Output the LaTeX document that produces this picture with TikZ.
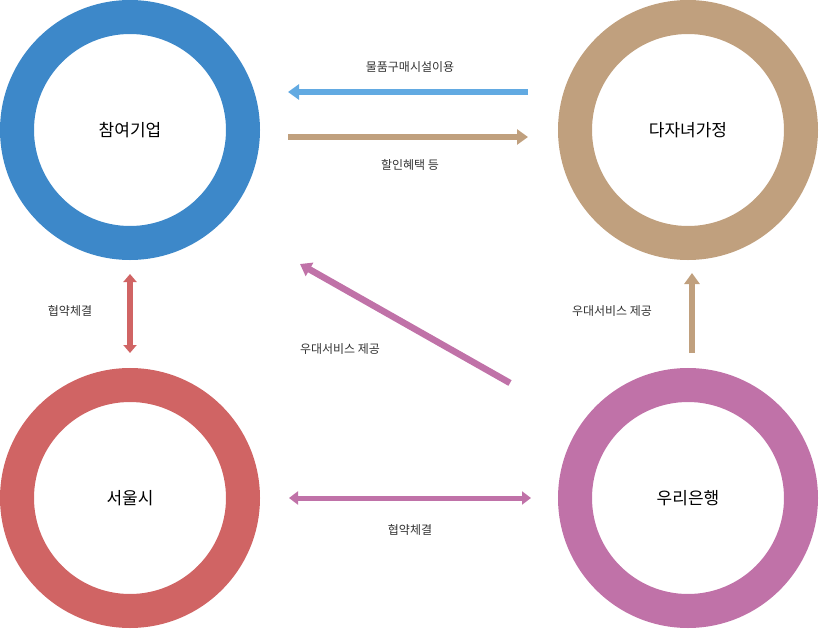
\documentclass[tikz,border=0pt]{standalone}
\usepackage{fontspec}
\setmainfont{Noto Sans CJK KR}
\usetikzlibrary{arrows.meta}

\definecolor{ringblue}{HTML}{3D88C9}
\definecolor{ringtan}{HTML}{C0A07E}
\definecolor{ringred}{HTML}{D06464}
\definecolor{ringpink}{HTML}{C072A8}
\definecolor{arrblue}{HTML}{62AAE2}

\tikzset{
	ring/.style={circle,draw=#1,line width=34pt,minimum size=226pt,font=\fontsize{17}{20}\selectfont},
	flow/.style={draw=#1,line width=6.5pt,-{Triangle[length=11pt,width=15pt]},color=#1},
	note/.style={font=\fontsize{12}{14}\selectfont,text=black!80}
}

\begin{document}
\begin{tikzpicture}[x=1pt,y=-1pt]
	\useasboundingbox (0,0) rectangle (820,629);

	\node (firm) [ring=ringblue] at (130,130) {참여기업};
	\node (family) [ring=ringtan] at (688,130) {다자녀가정};
	\node (city) [ring=ringred] at (130,498) {서울시};
	\node (bank) [ring=ringpink] at (688,498) {우리은행};

	\coordinate (a1) at (528,92);  \coordinate (a2) at (288,92);
	\coordinate (b1) at (288,137); \coordinate (b2) at (528,137);
	\coordinate (c1) at (130,274); \coordinate (c2) at (130,353);
	\coordinate (d1) at (510,383); \coordinate (d2) at (300,264);
	\coordinate (e1) at (692,353); \coordinate (e2) at (692,273);
	\coordinate (f1) at (289,498); \coordinate (f2) at (531,498);

	\draw[flow=arrblue] (a1) -- (a2);
	\draw[flow=ringtan] (b1) -- (b2);
	\draw[flow=ringred,{Triangle[length=8pt,width=13pt]}-{Triangle[length=8pt,width=13pt]}] (c1) -- (c2);
	\draw[flow=ringpink] (d1) -- (d2);
	\draw[flow=ringtan] (e1) -- (e2);
	\draw[flow=ringpink,line width=5pt,{Triangle[length=9pt,width=13pt]}-{Triangle[length=9pt,width=13pt]}] (f1) -- (f2);

	\node (buy) [note] at (410,67) {물품구매시설이용};
	\node (sale) [note] at (410,165) {할인혜택 등};
	\node (pact1) [note] at (70,311) {협약체결};
	\node (serv1) [note] at (340,349) {우대서비스 제공};
	\node (serv2) [note] at (612,311) {우대서비스 제공};
	\node (pact2) [note] at (410,530) {협약체결};
\end{tikzpicture}
\end{document}
